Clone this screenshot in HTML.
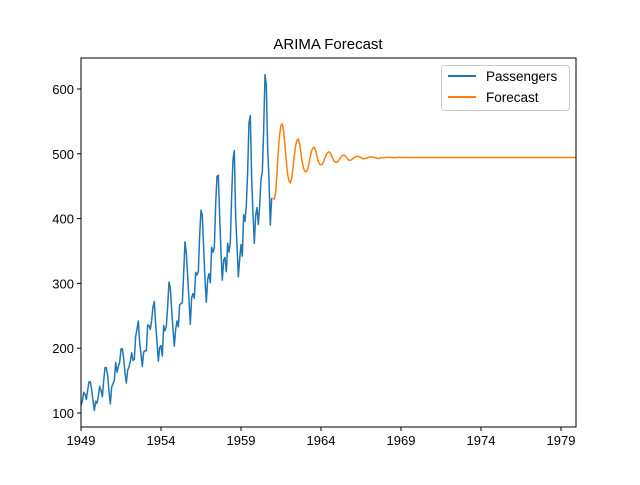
<!DOCTYPE html>
<html><head><meta charset="utf-8"><style>
body{margin:0;background:#fff;}
svg text{font-family:"Liberation Sans","DejaVu Sans",sans-serif;}
</style></head><body>
<svg id="chart" width="640" height="480" xmlns="http://www.w3.org/2000/svg">
<rect width="640" height="480" fill="#fff"/>
<text x="328" y="49" font-size="15" text-anchor="middle">ARIMA Forecast</text>
<g id="grid"></g>
<g id="series"></g>
<rect x="81" y="58" width="495" height="369" fill="none" stroke="#000" stroke-width="1"/>
<g id="ticks"></g>
<g>
<rect x="441.5" y="65.5" width="128" height="45" fill="#fff" stroke="#ccc" rx="3"/>
<line x1="448" y1="76" x2="476" y2="76" stroke="#1f77b4" stroke-width="2"/>
<text x="486" y="81" font-size="13.5">Passengers</text>
<line x1="448" y1="97" x2="476" y2="97" stroke="#ff7f0e" stroke-width="2"/>
<text x="486" y="102" font-size="13.5">Forecast</text>
</g>
</svg>
<script>
const startYear = 1949;
const passengers = [112,118,132,129,121,135,148,148,136,119,104,118,
115,126,141,135,125,149,170,170,158,133,114,140,
145,150,178,163,172,178,199,199,184,162,146,166,
171,180,193,181,183,218,230,242,209,191,172,194,
196,196,236,235,229,243,264,272,237,211,180,201,
204,188,235,227,234,264,302,293,259,229,203,229,
242,233,267,269,270,315,364,347,312,274,237,278,
284,277,317,313,318,374,413,405,355,306,271,306,
315,301,356,348,355,422,465,467,404,347,305,336,
340,318,362,348,363,435,491,505,404,359,310,337,
360,342,406,396,420,472,548,559,463,407,362,405,
417,391,419,461,472,535,622,606,508,461,390,432];
const forecastStartYear = 1961;
const forecast = [432,430,440,470,505,530,544,546,535,512,488,468,
458,455,462,478,497,513,521,523,515,500,486,477,
473,472,476,485,496,505,509,510,505,496,488,484,
483,484,488,494,499,502,503,501,497,492,488,487,
487,489,492,495,497,498,497,495,492,490,490,491,
493,494,496,496,496,495,494,493,492,493,493,494,
495,495,495,495,494,494,493,493,493,494,494,494,
494,494.5,494.5,494.5,494.4,494.2,494,494,494.1,494.3,494.4,494.4,
494.3,494.2,494.2,494.3,494.3,494.3,494.3,494.3,494.3,494.3,494.3,494.3,
494.3,494.3,494.3,494.3,494.3,494.3,494.3,494.3,494.3,494.3,494.3,494.3,
494.3,494.3,494.3,494.3,494.3,494.3,494.3,494.3,494.3,494.3,494.3,494.3,
494.3,494.3,494.3,494.3,494.3,494.3,494.3,494.3,494.3,494.3,494.3,494.3,
494.3,494.3,494.3,494.3,494.3,494.3,494.3,494.3,494.3,494.3,494.3,494.3,
494.3,494.3,494.3,494.3,494.3,494.3,494.3,494.3,494.3,494.3,494.3,494.3,
494.3,494.3,494.3,494.3,494.3,494.3,494.3,494.3,494.3,494.3,494.3,494.3,
494.3,494.3,494.3,494.3,494.3,494.3,494.3,494.3,494.3,494.3,494.3,494.3,
494.3,494.3,494.3,494.3,494.3,494.3,494.3,494.3,494.3,494.3,494.3,494.3,
494.3,494.3,494.3,494.3,494.3,494.3,494.3,494.3,494.3,494.3,494.3,494.3,
494.3,494.3,494.3,494.3,494.3,494.3,494.3,494.3,494.3,494.3,494.3,494.3];
const xTicks = [1949,1954,1959,1964,1969,1974,1979];
const yTicks = [100,200,300,400,500,600];

const L=81,R=576,T=58,B=427;
const xMin=1949,xMax=1979.94,yMin=78.4,yMax=647.8;
const X=v=>L+(v-xMin)/(xMax-xMin)*(R-L);
const Y=v=>B-(v-yMin)/(yMax-yMin)*(B-T);
const NS="http://www.w3.org/2000/svg";
const series=document.getElementById('series');
const ticks=document.getElementById('ticks');
function path(vals,y0,color,name){
  const p=document.createElementNS(NS,'polyline');
  p.setAttribute('points',vals.map((v,i)=>X(y0+i/12).toFixed(2)+','+Y(v).toFixed(2)).join(' '));
  p.setAttribute('fill','none');p.setAttribute('stroke',color);p.setAttribute('stroke-width','1.5');
  p.setAttribute('stroke-linejoin','round');
  
  
  series.appendChild(p);
}
path(passengers,startYear,'#1f77b4','passengers-line');
path(forecast,forecastStartYear,'#ff7f0e','forecast-line');
xTicks.forEach(t=>{
  const x=X(t);
  const l=document.createElementNS(NS,'line');
  l.setAttribute('x1',x);l.setAttribute('x2',x);l.setAttribute('y1',B);l.setAttribute('y2',B+4);l.setAttribute('stroke','#000');
  
  
  ticks.appendChild(l);
  const s=document.createElementNS(NS,'text');
  s.setAttribute('x',x);s.setAttribute('y',B+18);s.setAttribute('font-size','13');s.setAttribute('text-anchor','middle');
  s.textContent=t;
  
  
  ticks.appendChild(s);
});
yTicks.forEach(t=>{
  const y=Y(t);
  const l=document.createElementNS(NS,'line');
  l.setAttribute('x1',L-4);l.setAttribute('x2',L);l.setAttribute('y1',y);l.setAttribute('y2',y);l.setAttribute('stroke','#000');
  
  
  ticks.appendChild(l);
  const s=document.createElementNS(NS,'text');
  s.setAttribute('x',L-7);s.setAttribute('y',y+5);s.setAttribute('font-size','13');s.setAttribute('text-anchor','end');
  s.textContent=t;
  
  
  ticks.appendChild(s);
});
</script>
</body></html>
